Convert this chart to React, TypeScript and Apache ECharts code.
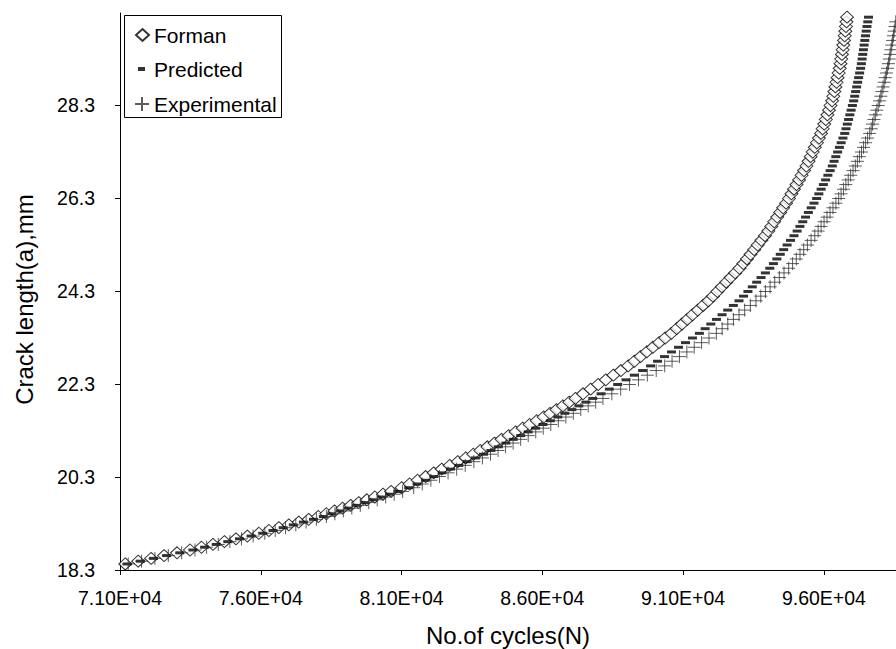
import React, { useEffect, useRef } from "react";
import * as echarts from "echarts";

// Crack length (mm) of each recorded point (shared by the three series)
const CRACK_LENGTH_MM = [
  18.43, 18.49, 18.55, 18.61, 18.67, 18.73, 18.79, 18.85, 18.91, 18.97, 19.03, 19.09, 19.15, 19.21,
  19.27, 19.33, 19.39, 19.45, 19.51, 19.57, 19.63, 19.69, 19.75, 19.81, 19.87, 19.93, 19.99,
  20.07, 20.15, 20.23, 20.31, 20.39, 20.47, 20.55, 20.63, 20.71, 20.79, 20.87, 20.95, 21.03, 21.11,
  21.19, 21.27, 21.35, 21.43, 21.51, 21.59, 21.67, 21.75, 21.83, 21.91, 21.99,
  22.09, 22.19, 22.29, 22.39, 22.49, 22.59, 22.69, 22.79, 22.89, 22.99, 23.09, 23.19, 23.29, 23.39,
  23.49, 23.59, 23.69, 23.79, 23.89, 23.99, 24.09, 24.19, 24.29, 24.39, 24.49, 24.59, 24.69, 24.79,
  24.89, 24.99, 25.09, 25.19, 25.29, 25.39, 25.49, 25.59, 25.69, 25.79, 25.89, 25.99, 26.09, 26.19,
  26.29, 26.39, 26.49, 26.59, 26.69, 26.79, 26.89, 26.99, 27.09, 27.19, 27.29, 27.39, 27.49, 27.59,
  27.69, 27.79, 27.89, 27.99, 28.09, 28.19, 28.29, 28.39, 28.49, 28.59, 28.69, 28.79, 28.89, 28.99,
  29.09, 29.19, 29.29, 29.39, 29.49, 29.59, 29.69, 29.79, 29.89, 29.99, 30.09, 30.19,
];

// Number of cycles at each crack length
const FORMAN_CYCLES = [
  71186, 71646, 72106, 72566, 73026, 73486, 73893, 74301, 74708, 75116, 75523, 75930, 76289, 76642,
  76995, 77348, 77701, 78043, 78330, 78617, 78905, 79192, 79479, 79767, 80054, 80341, 80628,
  81003, 81287, 81572, 81857, 82141, 82426, 82710, 82995, 83279, 83548, 83798, 84049, 84299, 84549,
  84800, 85050, 85300, 85550, 85801, 86045, 86272, 86500, 86728, 86955, 87177,
  87446, 87715, 87984, 88253, 88522, 88791, 89049, 89268, 89487, 89706, 89925, 90145, 90364, 90583,
  90772, 90959, 91147, 91334, 91521, 91709, 91896, 92058, 92216, 92373, 92531, 92688, 92846, 93003,
  93139, 93266, 93394, 93522, 93650, 93778, 93905, 94023, 94129, 94234, 94340, 94445, 94551, 94656,
  94757, 94846, 94936, 95025, 95115, 95205, 95294, 95380, 95454, 95528, 95602, 95676, 95750, 95823,
  95897, 95955, 96011, 96067, 96123, 96179, 96235, 96291, 96332, 96370, 96408, 96447, 96485, 96523,
  96561, 96589, 96614, 96639, 96664, 96688, 96713, 96738, 96760, 96781, 96801, 96821,
];

const PREDICTED_CYCLES = [
  71257, 71724, 72191, 72658, 73125, 73592, 74005, 74419, 74832, 75245, 75658, 76072, 76436, 76796,
  77155, 77514, 77873, 78222, 78516, 78810, 79104, 79399, 79693, 79987, 80281, 80575, 80869,
  81253, 81550, 81847, 82144, 82441, 82737, 83034, 83331, 83628, 83909, 84174, 84438, 84702, 84966,
  85230, 85494, 85759, 86023, 86287, 86548, 86797, 87047, 87297, 87546, 87790,
  88085, 88381, 88676, 88971, 89266, 89561, 89844, 90092, 90340, 90588, 90835, 91083, 91331, 91578,
  91782, 91983, 92183, 92383, 92583, 92784, 92984, 93146, 93301, 93456, 93612, 93767, 93922, 94077,
  94207, 94328, 94450, 94571, 94693, 94814, 94936, 95048, 95148, 95248, 95348, 95448, 95548, 95648,
  95741, 95821, 95901, 95981, 96061, 96141, 96221, 96298, 96361, 96424, 96487, 96550, 96613, 96676,
  96739, 96785, 96831, 96876, 96921, 96966, 97011, 97056, 97093, 97128, 97163, 97198, 97233, 97268,
  97303, 97331, 97355, 97379, 97403, 97427, 97452, 97476, 97502, 97529, 97557, 97584,
];

const EXPERIMENTAL_CYCLES = [
  71292, 71766, 72240, 72715, 73189, 73663, 74076, 74490, 74903, 75316, 75729, 76143, 76513, 76879,
  77244, 77610, 77975, 78330, 78631, 78932, 79233, 79534, 79834, 80135, 80436, 80737, 81038,
  81431, 81736, 82041, 82346, 82651, 82956, 83261, 83567, 83872, 84159, 84427, 84695, 84962, 85230,
  85498, 85765, 86033, 86301, 86568, 86835, 87100, 87364, 87629, 87893, 88152,
  88467, 88782, 89097, 89413, 89728, 90043, 90345, 90607, 90869, 91132, 91394, 91656, 91918, 92180,
  92385, 92586, 92786, 92986, 93186, 93387, 93587, 93758, 93923, 94088, 94253, 94418, 94583, 94748,
  94888, 95019, 95150, 95282, 95413, 95544, 95675, 95795, 95900, 96005, 96110, 96216, 96321, 96426,
  96524, 96609, 96694, 96779, 96864, 96949, 97033, 97116, 97189, 97262, 97334, 97407, 97480, 97553,
  97626, 97678, 97728, 97778, 97828, 97878, 97929, 97979, 98021, 98061, 98101, 98141, 98181, 98221,
  98261, 98293, 98322, 98351, 98381, 98410, 98439, 98468, 98497, 98524, 98551, 98579,
];

const SERIES_NAMES = ["Forman", "Predicted", "Experimental"];
const X_TICKS = [71000, 76000, 81000, 86000, 91000, 96000];
const Y_TICKS = [18.3, 20.3, 22.3, 24.3, 26.3, 28.3];
const X_MIN = 71000;
const X_MAX = 98560;
const Y_MIN = 18.3;
const Y_MAX = 30.28;
const X_TITLE = "No.of cycles(N)";
const Y_TITLE = "Crack length(a),mm";

const FONT = "'Liberation Sans', Arial, sans-serif";

const toPoints = (cycles: number[]) =>
  cycles.map((n, i) => [n - X_MIN, +(CRACK_LENGTH_MM[i] - Y_MIN).toFixed(4)]);

export default function App() {
  const ref = useRef<HTMLDivElement>(null);

  useEffect(() => {
    document.body.style.margin = "0";
    if (!ref.current) return;
    const chart = echarts.init(ref.current, undefined, { renderer: "svg" });
    const legendText = { fontSize: 21, color: "#000", fontFamily: FONT };
    const xTickVals = X_TICKS.map((v) => v - X_MIN);
    const yTickVals = Y_TICKS.map((v) => +(v - Y_MIN).toFixed(2));
    chart.setOption({
      animation: false,
      backgroundColor: "#fff",
      grid: { left: 120, right: 0, top: 13, bottom: 79, containLabel: false, outerBoundsMode: "none" },
      xAxis: {
        type: "value",
        min: 0,
        max: X_MAX - X_MIN,
        interval: 5000,
        name: X_TITLE,
        nameLocation: "middle",
        nameGap: 53,
        nameTextStyle: { fontSize: 24, color: "#000", fontFamily: FONT },
        axisLine: { show: true, onZero: false, lineStyle: { color: "#000", width: 1 } },
        axisTick: { show: true, inside: false, length: 5, lineStyle: { color: "#000" }, customValues: xTickVals },
        axisLabel: {
          show: true,
          margin: 18,
          fontSize: 19.5,
          color: "#000",
          fontFamily: FONT,
          customValues: xTickVals,
          formatter: (v: number) => ((v + X_MIN) / 10000).toFixed(2) + "E+04",
        },
        splitLine: { show: false },
      },
      yAxis: {
        type: "value",
        min: 0,
        max: +(Y_MAX - Y_MIN).toFixed(2),
        interval: 2,
        name: Y_TITLE,
        nameLocation: "middle",
        nameGap: 84,
        nameTextStyle: { fontSize: 24, color: "#000", fontFamily: FONT, padding: [0, 16, 0, 0] },
        axisLine: { show: true, onZero: false, lineStyle: { color: "#000", width: 1 } },
        axisTick: { show: true, inside: false, length: 5, lineStyle: { color: "#000" }, customValues: yTickVals },
        axisLabel: {
          show: true,
          margin: 25,
          fontSize: 19.5,
          color: "#000",
          fontFamily: FONT,
          customValues: yTickVals,
          formatter: (v: number) => (v + Y_MIN).toFixed(1),
        },
        splitLine: { show: false },
      },
      graphic: [
        {
          type: "rect",
          z: 1,
          shape: { x: 124.5, y: 15.5, width: 157, height: 102 },
          style: { fill: "#fff", stroke: "#000", lineWidth: 1 },
        },
      ],
      legend: [
        {
          data: [SERIES_NAMES[0]],
          left: 130,
          top: 19.5,
          padding: 5,
          itemWidth: 13,
          itemHeight: 12,
          selectedMode: false,
          textStyle: legendText,
          z: 5,
        },
        {
          data: [SERIES_NAMES[1]],
          left: 133,
          top: 53.5,
          padding: 5,
          itemWidth: 7,
          itemHeight: 4,
          selectedMode: false,
          textStyle: { ...legendText, padding: [0, 0, 0, 4] },
          z: 5,
        },
        {
          data: [SERIES_NAMES[2]],
          left: 129,
          top: 88.5,
          padding: 5,
          itemWidth: 14,
          itemHeight: 14,
          selectedMode: false,
          textStyle: legendText,
          z: 5,
        },
      ],
      series: [
        {
          type: "scatter",
          name: SERIES_NAMES[0],
          data: toPoints(FORMAN_CYCLES),
          symbol: "diamond",
          symbolSize: [13, 12],
          itemStyle: { color: "#fff", borderColor: "#000", borderWidth: 1 },
          clip: true,
        },
        {
          type: "scatter",
          name: SERIES_NAMES[1],
          data: toPoints(PREDICTED_CYCLES),
          symbol: "rect",
          symbolSize: [9, 3],
          itemStyle: { color: "#000" },
          clip: true,
        },
        {
          type: "scatter",
          name: SERIES_NAMES[2],
          data: toPoints(EXPERIMENTAL_CYCLES),
          symbol: "path://M7,0L7,14M0,7L14,7",
          symbolSize: 13,
          itemStyle: { color: "rgba(0,0,0,0)", borderColor: "#333", borderWidth: 1 },
          clip: true,
        },
      ],
    });
    return () => chart.dispose();
  }, []);

  return <div ref={ref} style={{ width: 896, height: 649 }} />;
}
